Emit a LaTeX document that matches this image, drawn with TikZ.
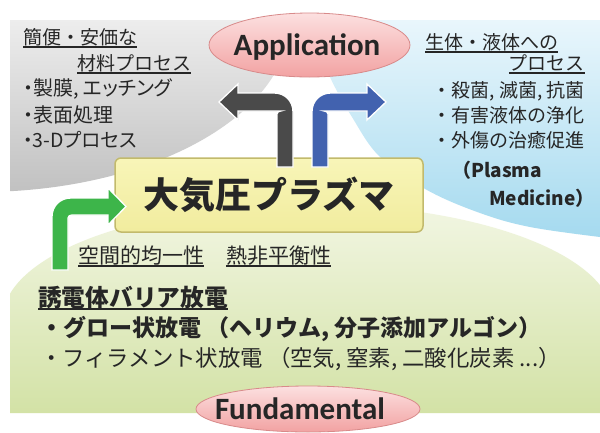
\documentclass[tikz,border=0pt]{standalone}
\usepackage{fontspec}
\newfontfamily\jp{Noto Sans CJK JP}
\newfontfamily\jpp[RawFeature=+palt]{Noto Sans CJK JP}
\newfontfamily\lat{Carlito}
\usetikzlibrary{shapes.geometric}
\newcommand\myul[1]{\leavevmode\setbox0\hbox{#1}\rlap{\rule[-3.5pt]{\wd0}{1.2pt}}\box0}
\definecolor{txt}{HTML}{262626}
\definecolor{grayT}{HTML}{EDEDED}
\definecolor{grayB}{HTML}{C0C0C0}
\definecolor{blueT}{HTML}{E9F6FC}
\definecolor{blueB}{HTML}{A5DAEF}
\definecolor{greenT}{HTML}{F2F6E3}
\definecolor{greenB}{HTML}{D3E2A6}
\definecolor{pinkT}{HTML}{FCE0E0}
\definecolor{pinkB}{HTML}{F2A2A2}
\definecolor{pinkD}{HTML}{D88A8A}
\definecolor{yelT}{HTML}{F8F5B8}
\definecolor{yelB}{HTML}{F1EC9E}
\definecolor{yelD}{HTML}{C2BA6C}
\definecolor{arrK}{HTML}{4A4A4A}
\definecolor{arrB}{HTML}{4262AF}
\definecolor{arrG}{HTML}{3DB54A}
\begin{document}
\begin{tikzpicture}[x=1pt,y=-1pt,
  side/.style={font=\jp\fontsize{19}{23}\selectfont, text=txt, inner sep=0pt},
  sidep/.style={font=\jpp\fontsize{20}{24}\selectfont, text=txt, inner sep=0pt},
  bottomtxt/.style={font=\jp\fontsize{22.4}{26}\selectfont, text=txt, inner sep=0pt},
  midtxt/.style={font=\jp\fontsize{21}{25}\selectfont, text=txt, inner sep=0pt},
  pinkell/.style={ellipse, inner sep=0pt, top color=pinkT, bottom color=pinkB, draw=pinkD, line width=0.8pt},
  eng/.style={font=\lat\bfseries\fontsize{31}{36}\selectfont, text=txt, inner sep=0pt},
  blockarrow/.style={draw=white, line width=1.3pt, line join=miter}]
\useasboundingbox (0,0) rectangle (600,432);
\fill[white] (0,0) rectangle (600,432);

% gray region
\begin{scope}
\clip (-20,20) ellipse [x radius=310, y radius=172];
\shade[top color=grayT, bottom color=grayB] (10,20) rectangle (310,195);
\end{scope}

% blue region
\shade[top color=blueT, bottom color=blueB] (600,20) -- (318,20)
  -- plot[smooth, tension=0.6] coordinates {(318,20) (322,50) (330,77) (352,117) (380,157) (427,190) (480,213) (530,227) (600,237)} -- cycle;

% green region
\shade[top color=greenT, bottom color=greenB] (10,413)
  -- plot[domain=167.7:16.8, samples=90] ({308+305*cos(\x)},{318-114*sin(\x)}) -- (600,413) -- cycle;

% central box
\node[rectangle, rounded corners=6pt, minimum width=308pt, minimum height=74pt,
  top color=yelT, bottom color=yelB, draw=yelD, line width=1.5pt] (box) at (269,195) {};
\node[font=\jp\bfseries\fontsize{36}{40}\selectfont, text=txt, inner sep=0pt] (plasma) at (box.center) {大気圧プラズマ};

% arrows
\filldraw[blockarrow, fill=arrK] (293,167) -- (293,112) .. controls (293,101) and (285,93) .. (274,93)
  -- (238,93) -- (238,84) -- (219,102) -- (238,120) -- (238,111) -- (281,111)
  .. controls (279,111) and (277,112) .. (277,114) -- (277,167) -- cycle;
\filldraw[blockarrow, fill=arrB] (312,167) -- (312,112) .. controls (312,101) and (320,93) .. (331,93)
  -- (367,93) -- (367,84) -- (386,102) -- (367,120) -- (367,111) -- (324,111)
  .. controls (326,111) and (328,112) .. (328,114) -- (328,167) -- cycle;
\filldraw[blockarrow, fill=arrG] (52,270) -- (52,217) .. controls (52,206) and (60,198) .. (71,198)
  -- (108,198) -- (108,188) -- (126,206.5) -- (108,225) -- (108,215) -- (72,215)
  .. controls (70,215) and (68,216) .. (68,218) -- (68,270) -- cycle;

% ellipses
\node[pinkell, minimum width=201pt, minimum height=64pt] (appell) at (309.5,45) {};
\node[eng, anchor=base] (app) at (307,55) {Application};
\node[pinkell, minimum width=224pt, minimum height=46pt] (fundell) at (308,409) {};
\node[eng, anchor=base] (fund) at (300,419) {Fundamental};

% left texts
\node[side, anchor=base west] (g1) at (23,44) {\myul{簡便・安価な}};
\node[side, anchor=base west] (g2) at (77,70) {\myul{材料プロセス}};
\node[sidep, anchor=base west] (g3) at (23,95) {・製膜, エッチング};
\node[sidep, anchor=base west] (g4) at (23,122) {・表面処理};
\node[sidep, font=\jpp\fontsize{19.5}{24}\selectfont, anchor=base west] (g5) at (23,147) {・3-Dプロセス};

% right texts
\node[side, anchor=base west] (b1) at (425,49) {\myul{生体・液体への}};
\node[side, anchor=base east] (b2) at (585,70) {\myul{プロセス}};
\node[side, anchor=base east] (b3) at (585,97) {・殺菌, 滅菌, 抗菌};
\node[side, anchor=base east] (b4) at (585,122) {・有害液体の浄化};
\node[side, anchor=base east] (b5) at (585,147) {・外傷の治癒促進};
\node[side, font=\jp\bfseries\fontsize{19}{23}\selectfont, anchor=base west] (b6) at (452,177) {（Plasma};
\node[side, font=\jp\bfseries\fontsize{19}{23}\selectfont, anchor=base east] (b7) at (595,205) {Medicine）};

% middle texts
\node[midtxt, anchor=base west] (m1) at (78,263) {\myul{空間的均一性}};
\node[midtxt, anchor=base west] (m2) at (226,263) {\myul{熱非平衡性}};

% bottom texts
\node[bottomtxt, font=\jp\bfseries\fontsize{23.7}{27}\selectfont, anchor=base west] (f1) at (38,306) {\myul{誘電体バリア放電}};
\node[bottomtxt, font=\jp\bfseries\fontsize{23}{27}\selectfont, anchor=base west] (f2) at (40,336) {・グロー状放電 （ヘリウム, 分子添加アルゴン）};
\node[bottomtxt, anchor=base west] (f3) at (40,366) {・フィラメント状放電 （空気, 窒素, 二酸化炭素 ...）};
\end{tikzpicture}
\end{document}
